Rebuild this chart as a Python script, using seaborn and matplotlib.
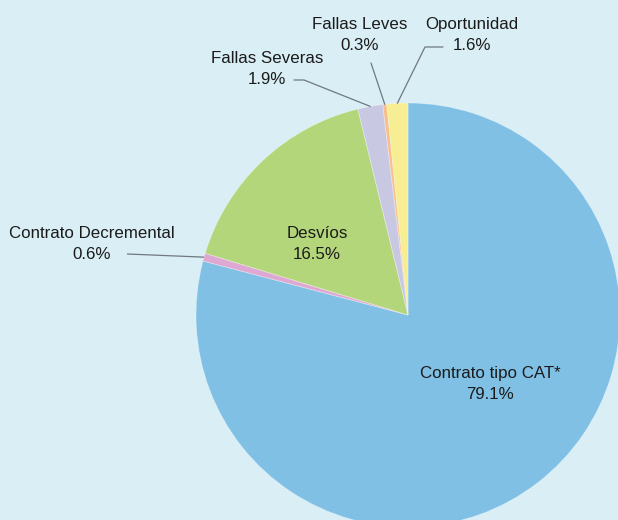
import numpy as np
import matplotlib
matplotlib.use("Agg")
import matplotlib.pyplot as plt
import seaborn as sns

# Composition of the contracts / deviations, in percent
categories = ["Contrato tipo CAT*", "Contrato Decremental", "Desvíos",
              "Fallas Severas", "Fallas Leves", "Oportunidad"]
shares = [79.1, 0.6, 16.5, 1.9, 0.3, 1.6]
colors = ["#7fc0e4", "#dea8d2", "#b4d67b", "#c9c8e2", "#f7bf8c", "#f7ee93"]

BG = "#d9eef5"
TXT = "#1b1b1b"
LINE = "#707880"

sns.set_style("white")
plt.rcParams["font.family"] = ["Liberation Sans", "DejaVu Sans"]

W, H = 618, 520
fig = plt.figure(figsize=(W / 100, H / 100), dpi=100, facecolor=BG)
ax = fig.add_axes([0, 0, 1, 1])
ax.set_facecolor(BG)

cx, cy, r = 408, H - 315, 212
wedges, _ = ax.pie(shares, colors=colors, startangle=90, counterclock=False,
                   center=(cx, cy), radius=r, frame=True,
                   wedgeprops=dict(linewidth=0.6, edgecolor=(1, 1, 1, 0.35)))
ax.set_xlim(0, W)
ax.set_ylim(0, H)
ax.set_axis_off()


def edge_point(i):
    w = wedges[i]
    a = np.deg2rad((w.theta1 + w.theta2) / 2)
    return cx + r * np.cos(a), cy + r * np.sin(a)


def label(i, x, y):
    ax.text(x, H - y, f"{categories[i]}\n{shares[i]:.1f}%", ha="center", va="center",
            multialignment="center", fontsize=12.2, color=TXT, linespacing=1.45)


# labels inside the large slices
label(0, 490, 384)
label(2, 317, 244)

# outside labels with leader lines
label(1, 92, 244)
ex, ey = edge_point(1)
ax.plot([127, ex], [H - 254, ey], color=LINE, lw=0.9, solid_capstyle="butt")

label(3, 267, 69)
ex, ey = edge_point(3)
ax.plot([294, 304, ex], [H - 80, H - 80, ey], color=LINE, lw=0.9)

label(4, 360, 35)
ex, ey = edge_point(4)
ax.plot([371, ex], [H - 63, ey], color=LINE, lw=0.9)

label(5, 472, 35)
ex, ey = edge_point(5)
ax.plot([443, 425, ex], [H - 47, H - 47, ey], color=LINE, lw=0.9)

fig.savefig("out.png", dpi=100, facecolor=BG)
